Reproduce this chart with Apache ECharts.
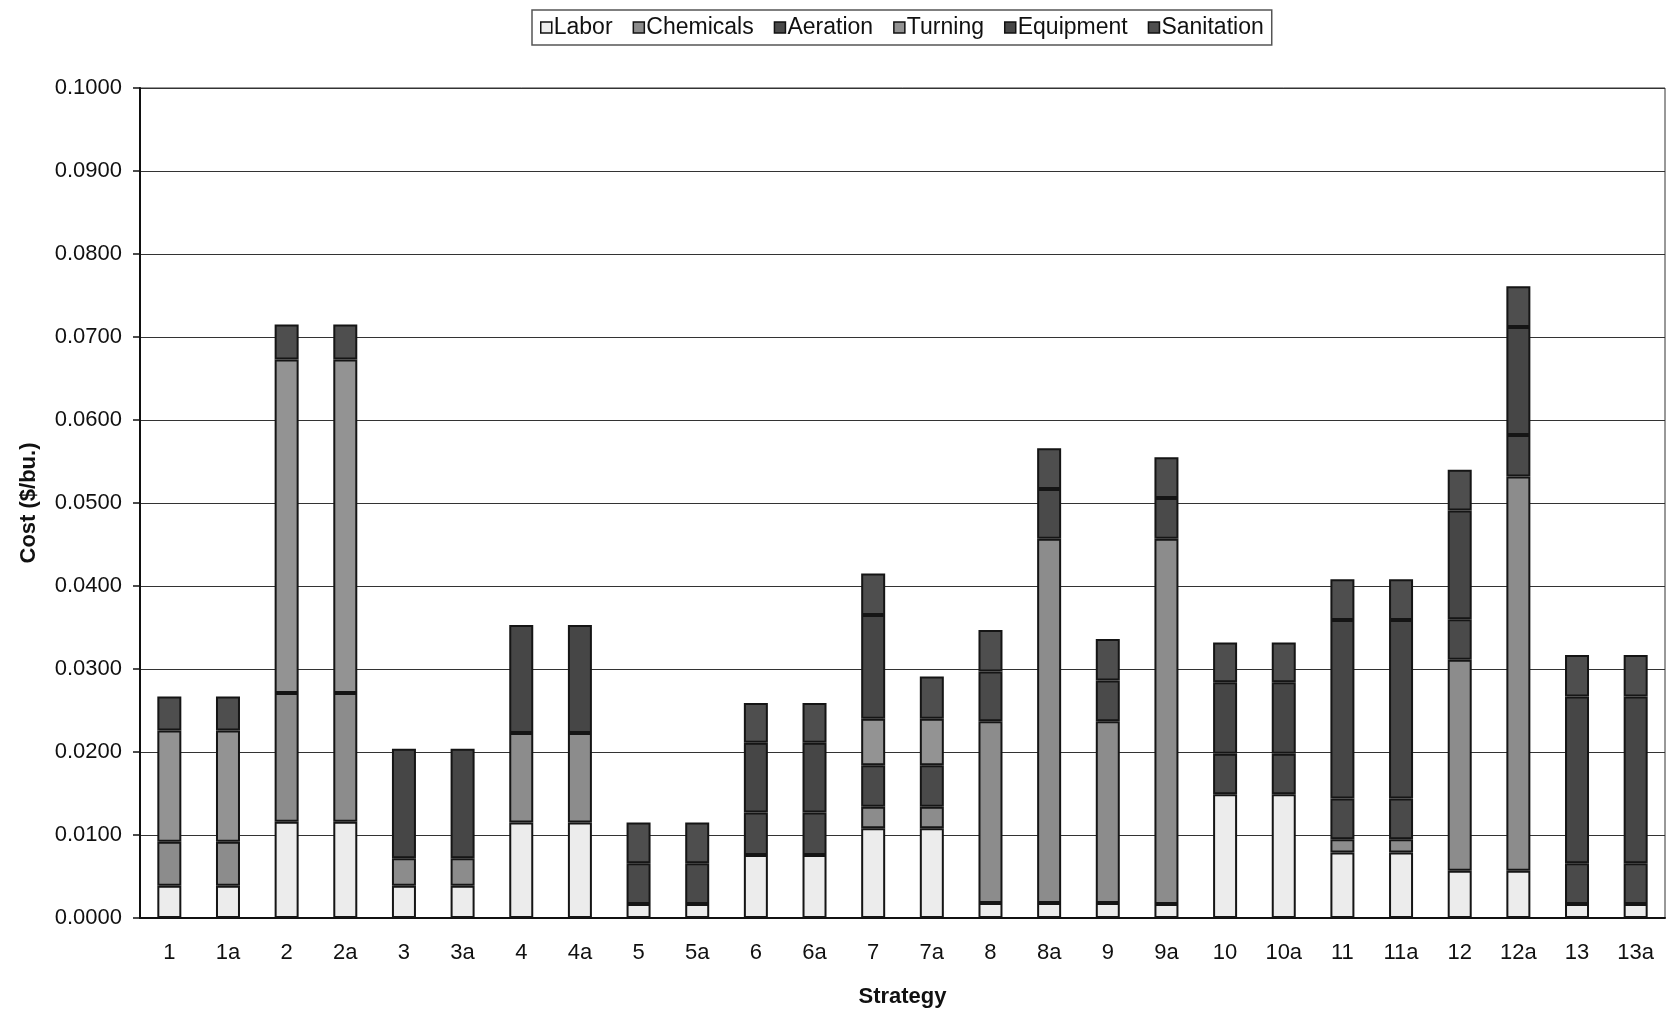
<!DOCTYPE html>
<html>
<head>
<meta charset="utf-8">
<script src="https://cdn.jsdelivr.net/npm/echarts@6/dist/echarts.min.js"></script>
<style>
  html, body { margin: 0; padding: 0; background: #fff; }
  #chart { width: 1668px; height: 1014px; }
</style>
</head>
<body>
<div id="chart"></div>
<script>
// strategies on the x axis
const categories = ['1','1a','2','2a','3','3a','4','4a','5','5a','6','6a','7','7a','8','8a','9','9a','10','10a','11','11a','12','12a','13','13a'];

// cost components, $/bu.
const labor      = [0.0039,0.0039,0.0116,0.0116,0.0039,0.0039,0.0115,0.0115,0.0017,0.0017,0.0076,0.0076,0.0108,0.0108,0.0018,0.0018,0.0018,0.0017,0.0149,0.0149,0.0079,0.0079,0.0057,0.0057,0.0017,0.0017];
const chemicals  = [0.0053,0.0053,0.0155,0.0155,0.0033,0.0033,0.0108,0.0108,0,0,0,0,0.0026,0.0026,0.0219,0.0439,0.0219,0.0440,0,0,0.0016,0.0016,0.0254,0.0475,0,0];
const aeration   = [0,0,0,0,0,0,0,0,0.0049,0.0049,0.0051,0.0051,0.0050,0.0050,0.0060,0.0060,0.0049,0.0049,0.0049,0.0049,0.0049,0.0049,0.0049,0.0050,0.0049,0.0049];
const turning    = [0.0134,0.0134,0.0402,0.0402,0,0,0,0,0,0,0,0,0.0056,0.0056,0,0,0,0,0,0,0,0,0,0,0,0];
const equipment  = [0,0,0,0,0.0132,0.0132,0.0130,0.0130,0,0,0.0084,0.0084,0.0125,0,0,0,0,0,0.0086,0.0086,0.0215,0.0215,0.0131,0.0130,0.0201,0.0201];
const sanitation = [0.0041,0.0041,0.0042,0.0042,0,0,0,0,0.0049,0.0049,0.0048,0.0048,0.0050,0.0051,0.0050,0.0049,0.0050,0.0049,0.0048,0.0048,0.0049,0.0049,0.0049,0.0049,0.0050,0.0050];

const seriesNames = ['Labor', 'Chemicals', 'Aeration', 'Turning', 'Equipment', 'Sanitation'];
const seriesData = [labor, chemicals, aeration, turning, equipment, sanitation];
const seriesColors = ['#ececec', '#8c8c8c', '#4a4a4a', '#939393', '#464646', '#4e4e4e'];

const FONT = '"Liberation Sans", Arial, sans-serif';

const chart = echarts.init(document.getElementById('chart'));

chart.setOption({
  animation: false,
  backgroundColor: '#fff',
  textStyle: { fontFamily: FONT },
  legend: {
    left: 532,
    top: 10,
    padding: [6, 8, 6, 8],
    itemGap: 20,
    itemWidth: 11,
    itemHeight: 11,
    icon: 'rect',
    borderColor: '#555',
    borderWidth: 1.5,
    itemStyle: { borderColor: '#111', borderWidth: 1.5 },
    textStyle: { fontSize: 23, color: '#111', fontFamily: FONT, padding: [0, 0, 0, -3] },
    data: seriesNames
  },
  grid: { left: 140, right: 3, top: 88, bottom: 96, show: true, borderColor: '#333', borderWidth: 1 },
  xAxis: {
    type: 'category',
    data: categories,
    name: 'Strategy',
    nameLocation: 'middle',
    nameGap: 68,
    nameTextStyle: { fontSize: 22, fontWeight: 'bold', color: '#111', fontFamily: FONT },
    axisLine: { lineStyle: { color: '#111', width: 2 } },
    axisTick: { length: 6, lineStyle: { color: '#111', width: 1.5 } },
    axisLabel: { fontSize: 22, color: '#111', margin: 24, fontFamily: FONT }
  },
  yAxis: {
    type: 'value',
    min: 0,
    max: 0.1,
    interval: 0.01,
    name: 'Cost ($/bu.)',
    nameLocation: 'middle',
    nameGap: 100,
    nameTextStyle: { fontSize: 22, fontWeight: 'bold', color: '#111', fontFamily: FONT },
    axisLine: { show: true, lineStyle: { color: '#111', width: 2 } },
    axisTick: { show: true, length: 7, lineStyle: { color: '#111', width: 1.5 } },
    axisLabel: {
      fontSize: 22, color: '#111', margin: 18, fontFamily: FONT,
      formatter: (v) => v.toFixed(4)
    },
    splitLine: { lineStyle: { color: '#333', width: 1.2 } }
  },
  series: seriesNames.map((name, i) => ({
    name: name,
    type: 'bar',
    stack: 'cost',
    barWidth: 24,
    data: seriesData[i].map((v) => (v === 0 ? '-' : v)),
    itemStyle: { color: seriesColors[i], borderColor: '#151515', borderWidth: 2 }
  }))
});
</script>
</body>
</html>
